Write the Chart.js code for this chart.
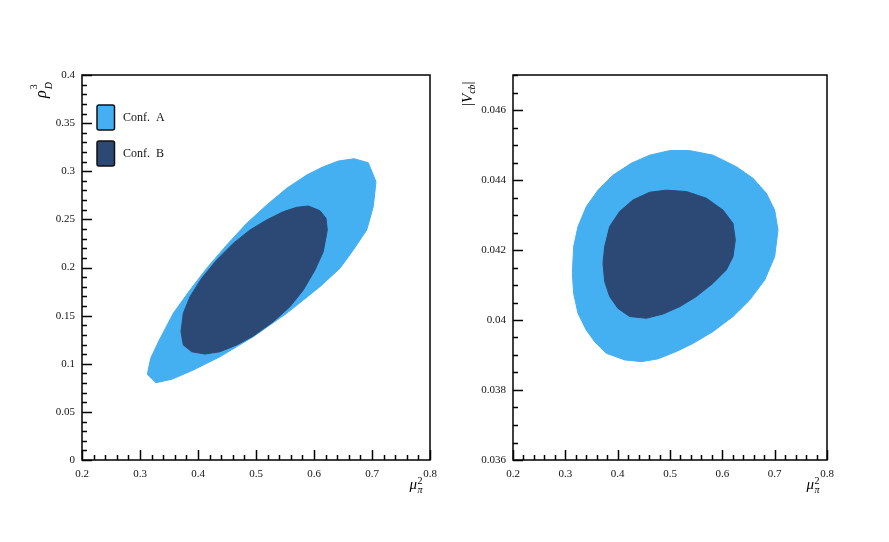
<!DOCTYPE html>
<html>
<head>
<meta charset="utf-8">
<script src="https://cdn.jsdelivr.net/npm/chart.js@4.4.1/dist/chart.umd.min.js"></script>
<style>
  body { margin: 0; background: #fff; }
  #wrap { position: relative; width: 889px; height: 542px; }
  canvas { position: absolute; top: 0; }
</style>
</head>
<body>
<div id="wrap">
  <canvas id="left" width="445" height="542" style="left:0"></canvas>
  <canvas id="right" width="444" height="542" style="left:445px"></canvas>
</div>
<script>
// series names + fill colours
const labels = ["Conf. A", "Conf. B"];
const colors = ["#44aff1", "#2c4875"];

// axis ranges
const xRange = [0.2, 0.8];
const leftYRange = [0, 0.4];
const rightYRange = [0.036, 0.047];

// contour outlines, [mu_pi^2, value]
const leftConfA = [
  [0.3126, 0.0890], [0.3276, 0.0803], [0.3547, 0.0838], [0.3919, 0.0935],
  [0.4379, 0.1073], [0.4953, 0.1281], [0.5529, 0.1524], [0.6103, 0.1801],
  [0.6448, 0.1992], [0.6678, 0.2182], [0.6909, 0.2390], [0.7022, 0.2632],
  [0.7069, 0.2891], [0.6936, 0.3089], [0.6690, 0.3130], [0.6419, 0.3106],
  [0.6160, 0.3047], [0.5874, 0.2961], [0.5529, 0.2823], [0.5184, 0.2649],
  [0.4840, 0.2459], [0.4495, 0.2234], [0.4150, 0.1992], [0.3862, 0.1766],
  [0.3574, 0.1524], [0.3333, 0.1247], [0.3184, 0.1057]
];
const leftConfB = [
  [0.3707, 0.1333], [0.3747, 0.1195], [0.3891, 0.1125], [0.4121, 0.1101],
  [0.4379, 0.1125], [0.4667, 0.1195], [0.4953, 0.1288], [0.5298, 0.1437],
  [0.5586, 0.1593], [0.5816, 0.1766], [0.6017, 0.1974], [0.6160, 0.2164],
  [0.6229, 0.2390], [0.6207, 0.2511], [0.6103, 0.2590], [0.5902, 0.2639],
  [0.5701, 0.2625], [0.5471, 0.2580], [0.5184, 0.2494], [0.4897, 0.2390],
  [0.4609, 0.2251], [0.4322, 0.2078], [0.4064, 0.1888], [0.3862, 0.1697],
  [0.3747, 0.1524]
];
const rightConfA = [
  [0.3134, 0.04133], [0.3159, 0.04210], [0.3242, 0.04267], [0.3401, 0.04324],
  [0.3624, 0.04371], [0.3911, 0.04414], [0.4261, 0.04448], [0.4611, 0.04471],
  [0.4994, 0.04484], [0.5376, 0.04484], [0.5822, 0.04471], [0.6268, 0.04438],
  [0.6586, 0.04405], [0.6841, 0.04362], [0.7000, 0.04314], [0.7064, 0.04257],
  [0.7000, 0.04181], [0.6809, 0.04114], [0.6522, 0.04057], [0.6204, 0.04010],
  [0.5822, 0.03967], [0.5439, 0.03933], [0.5121, 0.03910], [0.4771, 0.03889],
  [0.4452, 0.03881], [0.4134, 0.03886], [0.3783, 0.03905], [0.3561, 0.03938],
  [0.3401, 0.03971], [0.3242, 0.04019], [0.3159, 0.04076]
];
const rightConfB = [
  [0.3720, 0.04162], [0.3752, 0.04210], [0.3847, 0.04267], [0.4038, 0.04310],
  [0.4293, 0.04343], [0.4611, 0.04365], [0.4930, 0.04371], [0.5312, 0.04367],
  [0.5694, 0.04348], [0.6013, 0.04314], [0.6204, 0.04276], [0.6248, 0.04229],
  [0.6204, 0.04181], [0.6076, 0.04143], [0.5822, 0.04105], [0.5503, 0.04067],
  [0.5185, 0.04038], [0.4866, 0.04017], [0.4548, 0.04005], [0.4229, 0.04010],
  [0.4006, 0.04033], [0.3847, 0.04067], [0.3752, 0.04110]
];

const SERIF = "'Liberation Serif', 'DejaVu Serif', serif";
const fmt = v => String(+v.toFixed(4));

const toPoints = arr => {
  const pts = arr.map(p => ({ x: p[0], y: p[1] }));
  pts.push({ x: arr[0][0], y: arr[0][1] }); // close the loop
  return pts;
};

const makeDataset = (i, arr) => ({
  label: labels[i],
  data: toPoints(arr),
  showLine: true,
  fill: "shape",
  backgroundColor: colors[i],
  borderColor: colors[i],
  borderWidth: 1,
  pointRadius: 0,
  tension: 0,
  order: i === 0 ? 1 : 0
});

// draws a run of text pieces: [text, font, dy]
const drawPieces = (ctx, pieces) => {
  let x = 0;
  pieces.forEach(([t, font, dy]) => {
    ctx.font = font;
    ctx.fillText(t, x, dy);
    x += ctx.measureText(t).width;
  });
  return x;
};

// frame, inside ticks (ROOT style), legend, axis titles
const framePlugin = {
  id: "frame",
  afterDatasetsDraw(chart, args, opts) {
    const { ctx, chartArea: a, scales } = chart;
    ctx.save();
    ctx.strokeStyle = "#000";
    ctx.lineWidth = 1.5;
    ctx.strokeRect(a.left, a.top, a.right - a.left, a.bottom - a.top);

    const ticks = (scale, step, major, horiz) => {
      const n = Math.round((scale.max - scale.min) / step);
      for (let i = 0; i <= n; i++) {
        const v = scale.min + i * step;
        const isMajor = Math.abs(v / major - Math.round(v / major)) < 1e-6;
        const len = isMajor ? 10 : 5;
        const p = Math.round(scale.getPixelForValue(v)) + 0.5;
        ctx.beginPath();
        if (horiz) { ctx.moveTo(p, a.bottom); ctx.lineTo(p, a.bottom - len); }
        else { ctx.moveTo(a.left, p); ctx.lineTo(a.left + len, p); }
        ctx.stroke();
      }
    };
    ticks(scales.x, opts.xMinor, opts.xMajor, true);
    ticks(scales.y, opts.yMinor, opts.yMajor, false);

    ctx.fillStyle = "#000";
    ctx.textBaseline = "alphabetic";
    ctx.textAlign = "left";

    // x title: mu^2_pi, right aligned under the axis
    ctx.save();
    ctx.font = "italic 15px " + SERIF;
    const muW = ctx.measureText("\u03bc").width;
    ctx.translate(a.right - muW - 13, a.bottom + 29);
    ctx.fillText("\u03bc", 0, 0);
    ctx.font = "10px " + SERIF;
    ctx.fillText("2", muW + 0.5, -5);
    ctx.font = "italic 10px " + SERIF;
    ctx.fillText("\u03c0", muW + 0.5, 4);
    ctx.restore();

    // y title, rotated
    ctx.save();
    ctx.translate(opts.yTitleX, opts.yTitleY);
    ctx.rotate(-Math.PI / 2);
    if (opts.yTitle === "rho") {
      ctx.font = "italic 16px " + SERIF;
      ctx.fillText("\u03c1", 0, 0);
      const w = ctx.measureText("\u03c1").width + 1;
      ctx.font = "10px " + SERIF;
      ctx.fillText("3", w, -9);
      ctx.font = "italic 10px " + SERIF;
      ctx.fillText("D", w, 6);
    } else {
      drawPieces(ctx, [
        ["|", "15px " + SERIF, 0],
        ["V", "italic 15px " + SERIF, 0],
        ["cb", "italic 10px " + SERIF, 3],
        ["|", "15px " + SERIF, 0]
      ]);
    }
    ctx.restore();

    // legend
    if (opts.legend) {
      ctx.textBaseline = "middle";
      chart.data.datasets.forEach((ds, i) => {
        const bx = a.left + 15, by = a.top + 30 + i * 36;
        ctx.beginPath();
        ctx.roundRect(bx, by, 17.5, 25, 2);
        ctx.fillStyle = ds.backgroundColor;
        ctx.fill();
        ctx.lineWidth = 1.5;
        ctx.strokeStyle = "#111";
        ctx.stroke();
        ctx.fillStyle = "#111";
        ctx.font = "12px " + SERIF;
        ctx.fillText(ds.label.replace(". ", ".\u2002"), bx + 26, by + 13);
      });
    }
    ctx.restore();
  }
};

const tickFont = { family: SERIF, size: 11 };

function makeScales(yRange, yStep, yWidth) {
  return {
    x: {
      type: "linear", min: xRange[0], max: xRange[1],
      grid: { display: false, drawTicks: false }, border: { display: false },
      ticks: { stepSize: 0.1, padding: 8, color: "#111", font: tickFont,
        maxRotation: 0, autoSkip: false, callback: v => fmt(v) },
      afterFit: s => { s.height = 30; s.paddingLeft = 0; s.paddingRight = 0; }
    },
    y: {
      type: "linear", min: yRange[0], max: yRange[1],
      grid: { display: false, drawTicks: false }, border: { display: false },
      ticks: { stepSize: yStep, padding: 7, color: "#111", font: tickFont,
        autoSkip: false, includeBounds: false, callback: v => fmt(v) },
      afterFit: s => { s.width = yWidth; s.paddingTop = 0; s.paddingBottom = 0; }
    }
  };
}

function makeChart(id, confA, confB, yRange, yStep, yWidth, padRight, frameOpts) {
  return new Chart(document.getElementById(id), {
    type: "scatter",
    data: { datasets: [makeDataset(0, confA), makeDataset(1, confB)] },
    options: {
      responsive: false,
      animation: false,
      layout: { padding: { top: 75, left: 0, right: padRight, bottom: 52 } },
      scales: makeScales(yRange, yStep, yWidth),
      plugins: {
        legend: { display: false },
        tooltip: { enabled: false },
        frame: frameOpts
      }
    },
    plugins: [framePlugin]
  });
}

makeChart("left", leftConfA, leftConfB, leftYRange, 0.05, 82, 15, {
  xMinor: 0.02, xMajor: 0.1, yMinor: 0.01, yMajor: 0.05,
  yTitle: "rho", yTitleX: 46, yTitleY: 98, legend: true
});
makeChart("right", rightConfA, rightConfB, rightYRange, 0.002, 68, 62, {
  xMinor: 0.02, xMajor: 0.1, yMinor: 0.0005, yMajor: 0.002,
  yTitle: "vcb", yTitleX: 27, yTitleY: 106, legend: false
});
</script>
</body>
</html>
